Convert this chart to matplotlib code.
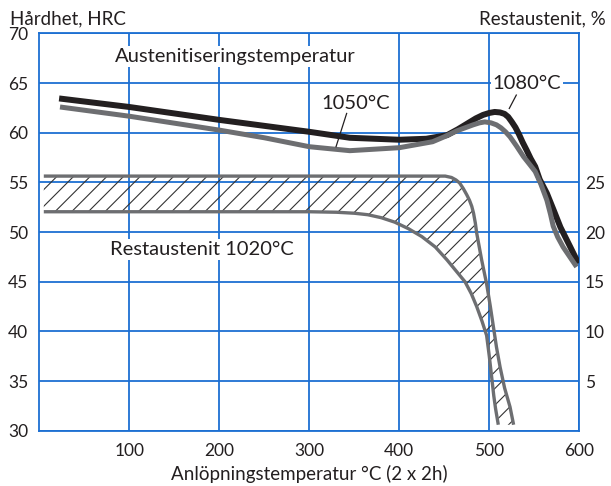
import matplotlib
matplotlib.use("Agg")
import matplotlib.pyplot as plt
import numpy as np

plt.rcParams['font.family'] = ['Lato', 'DejaVu Sans']
plt.rcParams['hatch.linewidth'] = 0.8

# ---- data ----
x_ticks = [100, 200, 300, 400, 500, 600]
hrc_ticks = [30, 35, 40, 45, 50, 55, 60, 65, 70]
ra_ticks = [5, 10, 15, 20, 25]

# 1080 C hardness curve (temper temperature, HRC)
t_1080 = [22, 100, 200, 300, 345, 400, 430, 453, 465, 475, 485, 493, 500, 506, 512, 517, 521, 525, 529,
          533, 537, 541.5, 546, 551, 556, 564, 572, 579, 590, 599]
h_1080 = [63.46, 62.6, 61.3, 60.1, 59.5, 59.3, 59.4, 59.76, 60.35, 60.9, 61.45, 61.8, 62.0, 62.1, 62.05, 61.9,
          61.6, 61.1, 60.55, 59.85, 59.05, 58.25, 57.4, 56.6, 55.3, 53.9, 52.1, 50.5, 48.5, 46.85]

# 1050 C hardness curve
t_1050 = [23, 100, 200, 250, 300, 345, 400, 437, 450, 464, 473, 482, 489, 495, 502, 508, 513, 518, 523,
          530, 538, 545, 551, 557, 564, 568, 571, 576, 582, 597]
h_1050 = [62.6, 61.67, 60.27, 59.5, 58.6, 58.2, 58.5, 59.1, 59.6, 60.2, 60.5, 60.8, 61.0, 61.1, 61.0, 60.8,
          60.5, 60.1, 59.6, 58.7, 57.6, 56.8, 56.1, 54.9, 53.2, 51.8, 50.6, 49.5, 48.5, 46.5]

# Retained austenite band 1020 C (temper temperature, %)
ra_upper_t = [5, 100, 200, 300, 400, 451, 458, 463, 467, 471, 475, 478, 480.5, 482.5, 484.5, 486, 491.5,
              497, 501, 504.5, 508, 512, 517, 523, 527]
ra_upper_v = [25.64, 25.64, 25.64, 25.64, 25.64, 25.64, 25.5, 25.25, 24.95, 24.4, 23.75, 23.2, 22.6, 21.9,
              20.9, 19.9, 17.2, 14.8, 12.6, 10.5, 8.4, 6.4, 4.3, 2.4, 0.6]
ra_lower_t = [5, 100, 200, 300, 330, 350, 365, 380, 395, 410, 425, 440, 453, 463, 473, 480, 486, 492,
              497, 500, 502.5, 505, 507, 510]
ra_lower_v = [22.05, 22.05, 22.05, 22.05, 22.0, 21.9, 21.75, 21.45, 21.0, 20.35, 19.55, 18.5, 17.2, 16.1,
              15.0, 13.8, 12.5, 11.0, 9.6, 7.5, 5.5, 3.5, 2.2, 0.6]

BLUE = '#1c6fd2'
BLACK = '#231f20'
GRAY = '#6d6e71'
TXT = '#231f20'
FS_TICK = 12.5
FS_LAB = 14.5
FS_TITLE = 13.5

fig = plt.figure(figsize=(6.11, 4.86), dpi=100)
ax = fig.add_axes([39.3/611, 1-430.7/486, 540/611, (430.7-33.5)/486])

ax.set_xlim(0, 600)
ax.set_ylim(30, 70)
ax.set_xticks(x_ticks)
ax.set_yticks(hrc_ticks)
ax.grid(True, color=BLUE, linewidth=1.3, zorder=0)
ax.set_axisbelow(True)
for s in ax.spines.values():
    s.set_color(BLUE)
    s.set_linewidth(1.3)
ax.tick_params(axis='both', length=0, labelsize=FS_TICK, colors=TXT)
ax.tick_params(axis='x', pad=9)
ax.tick_params(axis='y', pad=8)

ax2 = ax.twinx()
ax2.set_ylim(0, 40)
ax2.set_yticks(ra_ticks)
ax2.tick_params(axis='y', length=0, labelsize=FS_TICK, colors=TXT, pad=4)
for s in ax2.spines.values():
    s.set_visible(False)

# band
poly_t = np.concatenate([ra_upper_t, ra_lower_t[::-1]])
poly_v = np.concatenate([ra_upper_v, ra_lower_v[::-1]])
ax2.fill(poly_t, poly_v, facecolor='none', edgecolor='#333333', hatch='//', linewidth=0, zorder=2)
ax2.plot(ra_upper_t, ra_upper_v, color=GRAY, lw=2.4, solid_capstyle='butt', solid_joinstyle='round', zorder=3)
ax2.plot(ra_lower_t, ra_lower_v, color=GRAY, lw=2.4, solid_capstyle='butt', solid_joinstyle='round', zorder=3)

# curves
ax.plot(t_1080, h_1080, color=BLACK, lw=4.3, solid_capstyle='butt', solid_joinstyle='round', zorder=4)
ax.plot(t_1050, h_1050, color=GRAY, lw=3.6, solid_capstyle='butt', solid_joinstyle='round', zorder=5)

bb = dict(facecolor='white', edgecolor='none', pad=1.5)
ax.text(217.5, 67.66, 'Austenitiseringstemperatur', fontsize=FS_LAB, color=TXT, ha='center', va='center', bbox=bb, zorder=6)
ax.text(181, 48.2, 'Restaustenit 1020°C', fontsize=FS_LAB, color=TXT, ha='center', va='center', bbox=bb, zorder=6)
ax.text(352, 63.0, '1050°C', fontsize=FS_LAB, color=TXT, ha='center', va='center', bbox=bb, zorder=6)
ax.text(542, 64.95, '1080°C', fontsize=FS_LAB, color=TXT, ha='center', va='center', bbox=bb, zorder=6)
ax.plot([341.5, 329.7], [61.95, 58.6], color=BLACK, lw=0.9, zorder=6)
ax.plot([530, 522.2], [63.8, 62.45], color=BLACK, lw=0.9, zorder=6)

fig.text(10/611, 1-19/486, 'Hårdhet, HRC', fontsize=FS_TITLE, color=TXT, ha='left', va='center')
fig.text(606/611, 1-19/486, 'Restaustenit, %', fontsize=FS_TITLE, color=TXT, ha='right', va='center')
fig.text(309.5/611, 1-474/486, 'Anlöpningstemperatur °C (2 x 2h)', fontsize=FS_TITLE, color=TXT, ha='center', va='center')

fig.savefig('out.png', dpi=100)
